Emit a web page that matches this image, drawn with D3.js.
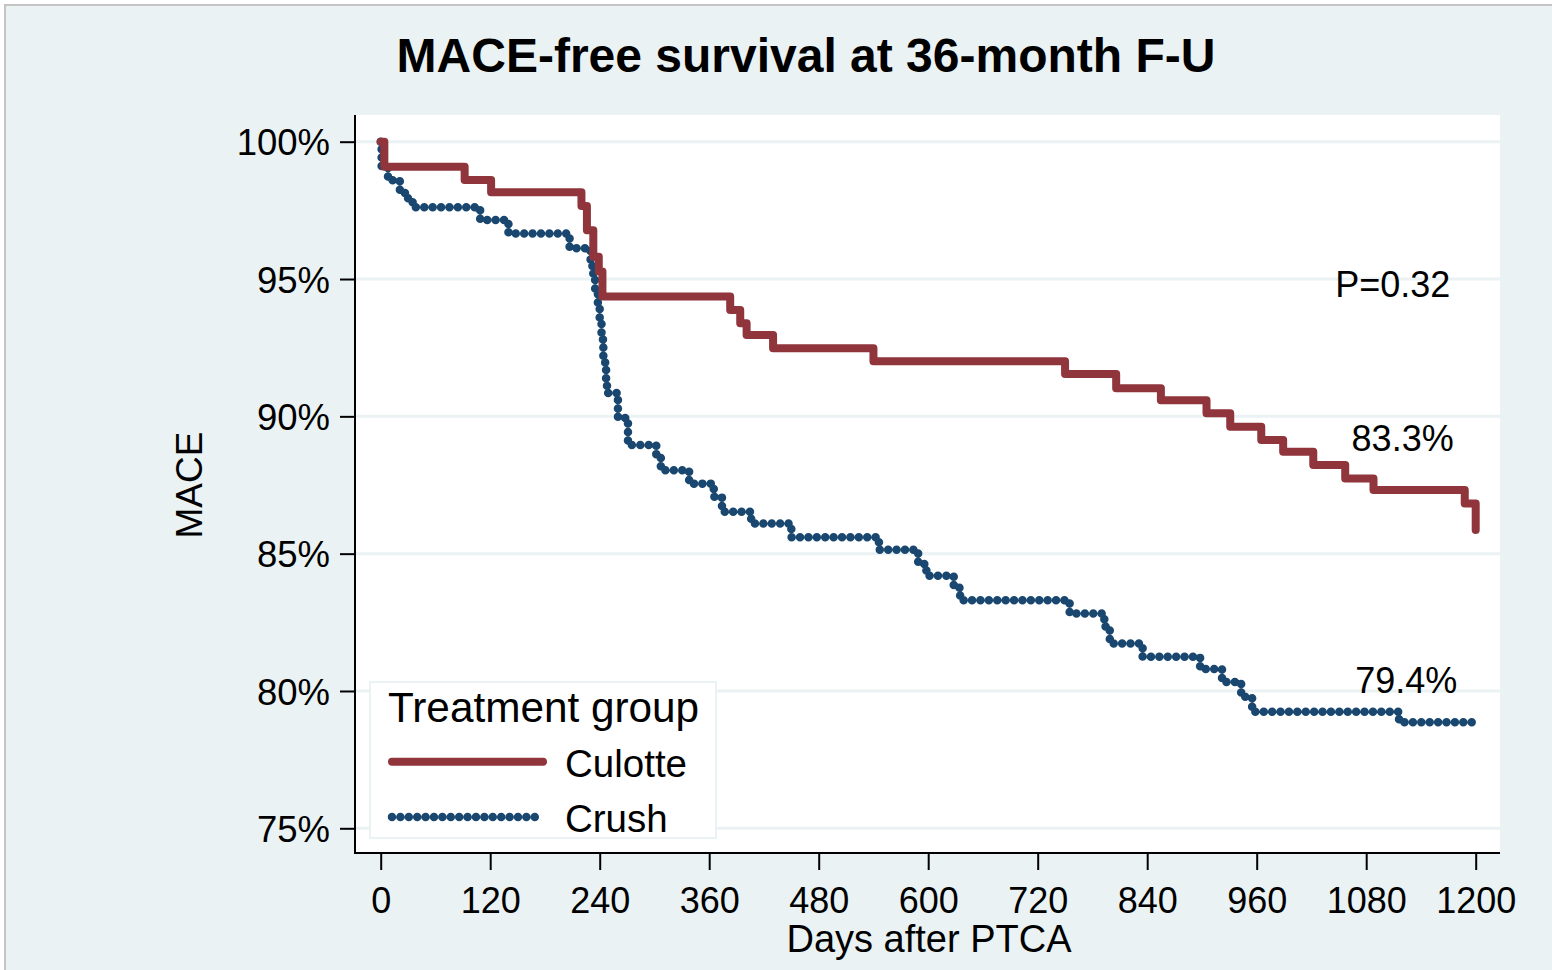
<!DOCTYPE html>
<html>
<head>
<meta charset="utf-8">
<script src="https://cdn.jsdelivr.net/npm/d3@7"></script>
<style>
  html, body { margin: 0; padding: 0; background: #ffffff; }
  svg { display: block; }
  text { font-family: "Liberation Sans", Arial, Helvetica, sans-serif; fill: #000; }
</style>
</head>
<body>
<svg id="chart" width="1552" height="970"></svg>
<script>
// Kaplan-Meier estimates: [day, MACE-free survival %]
const culotteSteps = [
  [0, 100], [4, 99.09], [92, 98.61], [121, 98.16], [220, 97.66], [226, 96.78],
  [233, 95.81], [239, 95.27], [243, 94.36], [383, 93.87], [394, 93.39], [401, 92.96],
  [430, 92.48], [540, 92.01], [750, 91.54], [806, 91.02], [855, 90.59], [905, 90.11],
  [931, 89.62], [965, 89.14], [989, 88.71], [1022, 88.23], [1057, 87.74], [1088, 87.32],
  [1188, 86.83], [1200, 85.86]
];
const crushSteps = [
  [0, 100], [1, 99.09], [8, 98.6], [21, 98.13], [30, 97.81], [35, 97.61], [109, 97.15],
  [140, 96.66], [207, 96.12], [230, 95.7], [232, 95.2], [235, 94.6], [238, 94.0],
  [240, 93.4], [242, 92.8], [244, 92.2], [246, 91.7], [247, 91.2], [248, 90.85],
  [260, 89.94], [271, 88.96], [302, 88.5], [307, 88.04], [338, 87.55], [365, 87.07],
  [374, 86.53], [406, 86.1], [450, 85.6], [546, 85.14], [589, 84.62], [598, 84.2],
  [628, 83.76], [635, 83.3], [755, 82.82], [793, 82.35], [799, 81.73], [835, 81.25],
  [898, 80.8], [922, 80.33], [943, 79.79], [955, 79.24], [1116, 78.86], [1196, 78.86]
];

const groupNames = ["Culotte", "Crush"];
const xTicks = [0, 120, 240, 360, 480, 600, 720, 840, 960, 1080, 1200];
const yTicks = [75, 80, 85, 90, 95, 100];

const titleText = "MACE-free survival at 36-month F-U";
const xTitle = "Days after PTCA";
const yTitle = "MACE";
const legendTitle = "Treatment group";
// text annotations: [label, day, survival %]
const notes = [["P=0.32", 1046, 94.36], ["83.3%", 1064, 88.75], ["79.4%", 1068, 79.92]];

const BG = "#eaf2f3";
const RED = "#90353b";
const NAVY = "#1a476f";

const svg = d3.select("#chart");

// outer panel
svg.append("rect").attr("x", 5).attr("y", 5).attr("width", 1600).attr("height", 1000)
  .attr("fill", BG).attr("stroke", "#c4c4c4").attr("stroke-width", 2);

// plot region
const plot = { left: 355, right: 1500, top: 115, bottom: 853 };
svg.append("rect").attr("x", plot.left).attr("y", plot.top)
  .attr("width", plot.right - plot.left).attr("height", plot.bottom - plot.top)
  .attr("fill", "#ffffff");

const x = d3.scaleLinear().domain([0, 1200]).range([380.7, 1475.7]);
const y = d3.scaleLinear().domain([75, 100]).range([828.3, 141.7]);

// horizontal grid
svg.append("g").selectAll("line").data(yTicks).join("line")
  .attr("x1", plot.left).attr("x2", plot.right)
  .attr("y1", d => y(d)).attr("y2", d => y(d))
  .attr("stroke", BG).attr("stroke-width", 3);

// survival curves
const stepLine = d3.line().x(d => x(d[0])).y(d => y(d[1])).curve(d3.curveStepAfter);
const DOTS = "0 8.4";

svg.append("path").datum(crushSteps).attr("d", stepLine)
  .attr("fill", "none").attr("stroke", NAVY).attr("stroke-width", 8.5)
  .attr("stroke-linecap", "round").attr("stroke-linejoin", "round")
  .attr("stroke-dasharray", DOTS);

svg.append("path").datum(culotteSteps).attr("d", stepLine)
  .attr("fill", "none").attr("stroke", RED).attr("stroke-width", 8)
  .attr("stroke-linecap", "round").attr("stroke-linejoin", "round");

// axes
const yAxis = svg.append("g").attr("transform", `translate(${plot.left},0)`)
  .call(d3.axisLeft(y).tickValues(yTicks).tickFormat(d => d + "%").tickSize(15).tickPadding(10));
yAxis.select(".domain").remove();
yAxis.selectAll(".tick line").attr("stroke", "#000").attr("stroke-width", 2);
yAxis.selectAll(".tick text").attr("font-size", 36.5).attr("dy", "0.36em")
  .style("font-family", '"Liberation Sans", Arial, sans-serif');

const xAxis = svg.append("g").attr("transform", `translate(0,${plot.bottom})`)
  .call(d3.axisBottom(x).tickValues(xTicks).tickFormat(d3.format("d")).tickSize(17).tickPadding(17));
xAxis.select(".domain").remove();
xAxis.selectAll(".tick line").attr("stroke", "#000").attr("stroke-width", 2);
xAxis.selectAll(".tick text").attr("font-size", 36)
  .style("font-family", '"Liberation Sans", Arial, sans-serif');

svg.append("line").attr("x1", plot.left).attr("x2", plot.left)
  .attr("y1", plot.top).attr("y2", plot.bottom + 1)
  .attr("stroke", "#000").attr("stroke-width", 2);
svg.append("line").attr("x1", plot.left - 1).attr("x2", plot.right)
  .attr("y1", plot.bottom).attr("y2", plot.bottom)
  .attr("stroke", "#000").attr("stroke-width", 2);

// titles
svg.append("text").attr("x", 806).attr("y", 72).attr("text-anchor", "middle")
  .attr("font-size", 48).attr("font-weight", "bold").text(titleText);
svg.append("text").attr("x", 929).attr("y", 952).attr("text-anchor", "middle")
  .attr("font-size", 38).text(xTitle);
svg.append("text").attr("transform", "translate(202,485) rotate(-90)")
  .attr("text-anchor", "middle").attr("font-size", 37).text(yTitle);

// annotations
svg.append("g").selectAll("text").data(notes).join("text")
  .attr("x", d => x(d[1])).attr("y", d => y(d[2]))
  .attr("font-size", 36).text(d => d[0]);

// legend
const lg = svg.append("g");
lg.append("rect").attr("x", 370).attr("y", 682).attr("width", 346).attr("height", 156)
  .attr("fill", "#ffffff").attr("stroke", BG).attr("stroke-width", 2);
lg.append("text").attr("x", 388).attr("y", 721.5).attr("font-size", 42.3).text(legendTitle);
const keys = [
  { name: groupNames[0], color: RED, width: 8, dash: null, yy: 761.7 },
  { name: groupNames[1], color: NAVY, width: 8.5, dash: DOTS, yy: 817 }
];
keys.forEach(k => {
  lg.append("line").attr("x1", 392).attr("x2", 543).attr("y1", k.yy).attr("y2", k.yy)
    .attr("stroke", k.color).attr("stroke-width", k.width)
    .attr("stroke-linecap", "round").attr("stroke-dasharray", k.dash);
  lg.append("text").attr("x", 565).attr("y", k.yy + 15).attr("font-size", 38.5).text(k.name);
});
</script>
</body>
</html>
